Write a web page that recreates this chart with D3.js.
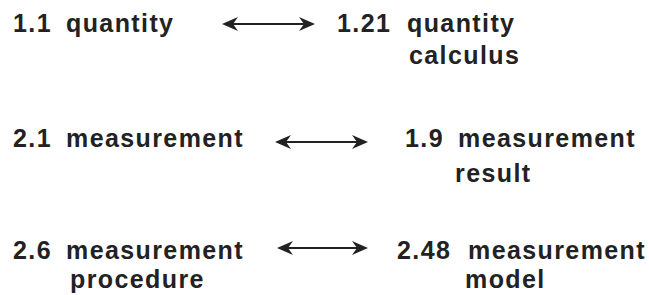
<!DOCTYPE html>
<html><head><meta charset="utf-8">
<script src="https://cdn.jsdelivr.net/npm/d3@7"></script>
<style>
html,body{margin:0;padding:0;background:#fff;}
svg{display:block;}
text{font-family:"Liberation Sans",Arial,Helvetica,sans-serif;font-weight:bold;font-size:25px;fill:#222;letter-spacing:1.4px;}
</style></head>
<body>
<script>
// Data: concept pairs linked by double-headed arrows
const leftIds = ["1.1", "2.1", "2.6"];
const leftTerms = [["quantity"], ["measurement"], ["measurement", "procedure"]];
const rightIds = ["1.21", "1.9", "2.48"];
const rightTerms = [["quantity", "calculus"], ["measurement", "result"], ["measurement", "model"]];

// Layout (pixel placement, kept apart from the data)
const W = 649, H = 295;
const rowBase = [32, 147, 259];       // first-line baselines
const secondLineGap = [32, 35, 29];
const leftLayout = {idX: [13, 13, 13], termX: [[66], [66], [66, 70]]};
const rightLayout = {idX: [337, 405, 397], termX: [[407, 409], [458, 455], [468, 465]]};
const arrowLayout = {x1: [222, 275, 277], x2: [315, 368, 368], dy: [-8, -5, -11]};

const svg = d3.select("body").append("svg").attr("width", W).attr("height", H);

const rows = d3.range(leftIds.length);
const y = d3.scaleOrdinal().domain(rows).range(rowBase);

const g = svg.selectAll("g.row").data(rows).join("g").attr("class", "row");

function drawSide(sel, ids, terms, layout) {
  sel.append("text")
    .attr("x", i => layout.idX[i])
    .attr("y", i => y(i))
    .text(i => ids[i]);
  sel.each(function(i) {
    d3.select(this).selectAll(null).data(terms[i]).join("text")
      .attr("x", (t, k) => layout.termX[i][k])
      .attr("y", (t, k) => y(i) + k * secondLineGap[i])
      .text(t => t);
  });
}
const left = g.append("g");
drawSide(left, leftIds, leftTerms, leftLayout);
const right = g.append("g");
drawSide(right, rightIds, rightTerms, rightLayout);

// arrows
const head = "M0,0 L-16,-7 L-11,0 L-16,7 Z";
g.each(function(i) {
  const a = d3.select(this).append("g");
  const ay = y(i) + arrowLayout.dy[i];
  const x1 = arrowLayout.x1[i], x2 = arrowLayout.x2[i];
  a.append("line").attr("x1", x1 + 8).attr("x2", x2 - 8).attr("y1", ay).attr("y2", ay)
    .attr("stroke", "#222").attr("stroke-width", 2);
  a.append("path").attr("d", head).attr("fill", "#222")
    .attr("transform", `translate(${x2},${ay})`);
  a.append("path").attr("d", head).attr("fill", "#222")
    .attr("transform", `translate(${x1},${ay}) rotate(180)`);
});
</script>
</body></html>
